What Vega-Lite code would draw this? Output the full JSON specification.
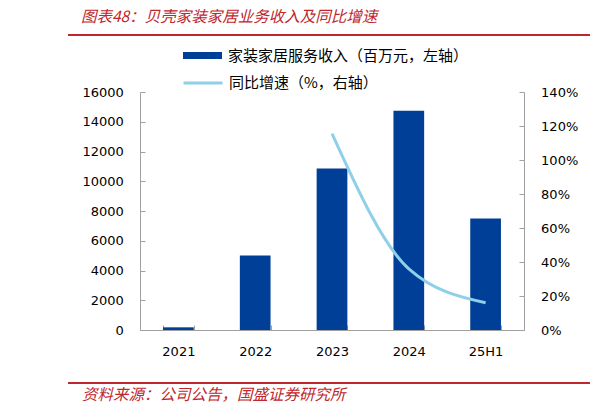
{
  "$schema": "https://vega.github.io/schema/vega-lite/v6.json",
  "background": "white",
  "padding": {"left": 68, "top": 9, "right": 5, "bottom": 5},
  "spacing": 11,
  "config": {
    "view": {"stroke": null},
    "font": "Noto Sans CJK SC",
    "axis": {"labelFont": "DejaVu Sans", "labelFontSize": 13, "labelColor": "#000000", "domainColor": "#a0a0a0", "tickColor": "#a0a0a0", "grid": false, "title": null}
  },
  "vconcat": [
    {
      "width": 522,
      "height": 2,
      "view": {"fill": "#C0272D", "stroke": null},
      "title": {"text": "图表48：贝壳家装家居业务收入及同比增速", "anchor": "start", "dx": 13, "offset": 9, "font": "Noto Sans CJK SC", "fontSize": 15.5, "fontStyle": "italic", "fontWeight": "normal", "color": "#C0272D"},
      "data": {"values": []},
      "mark": "point"
    },
    {
      "spacing": 13,
      "hconcat": [
        {
          "width": 1,
          "height": 1,
          "data": {"values": []},
          "mark": "point"
        },
        {
          "width": 384,
          "height": 238,
          "data": {"values": [
            {"period": "2021", "revenue": 180, "growth": null},
            {"period": "2022", "revenue": 5013, "growth": null},
            {"period": "2023", "revenue": 10852, "growth": 115.5},
            {"period": "2024", "revenue": 14745, "growth": 36},
            {"period": "25H1", "revenue": 7497, "growth": 16}
          ]},
          "encoding": {
            "x": {"field": "period", "type": "ordinal", "sort": null,
              "scale": {"paddingInner": 0.6, "paddingOuter": 0.3},
              "axis": {"labelAngle": 0, "tickBand": "extent", "tickSize": -5, "labelPadding": 20.5}}
          },
          "layer": [
            {
              "mark": {"type": "bar"},
              "encoding": {
                "y": {"field": "revenue", "type": "quantitative",
                  "scale": {"domain": [0, 16000]},
                  "axis": {"values": [0, 2000, 4000, 6000, 8000, 10000, 12000, 14000, 16000], "format": "d", "tickSize": -5, "labelPadding": 21.6}},
                "fill": {"datum": "家装家居服务收入（百万元，左轴）", "type": "nominal",
                  "scale": {"range": ["#003F98"]},
                  "legend": {"orient": "none", "legendX": 54, "legendY": -45, "title": null,
                    "symbolType": "M-2.6,-0.47H2.6V0.47H-2.6Z", "symbolSize": 225, "symbolOpacity": 1,
                    "labelFont": "Noto Sans CJK SC", "labelFontSize": 15, "labelColor": "#000000", "labelOffset": 17, "labelLimit": 400}}
              }
            },
            {
              "mark": {"type": "line", "interpolate": "monotone", "strokeWidth": 3},
              "encoding": {
                "y": {"field": "growth", "type": "quantitative",
                  "scale": {"domain": [0, 140]},
                  "axis": {"orient": "right", "values": [0, 20, 40, 60, 80, 100, 120, 140], "labelExpr": "datum.value + '%'", "tickSize": -5, "labelPadding": 21.6}},
                "stroke": {"datum": "同比增速（%，右轴）", "type": "nominal",
                  "scale": {"range": ["#8FD0E8"]},
                  "legend": {"orient": "none", "legendX": 54, "legendY": -18, "title": null,
                    "symbolType": "M-2.6,0H2.6", "symbolSize": 225, "symbolStrokeWidth": 3,
                    "labelFont": "Noto Sans CJK SC", "labelFontSize": 15, "labelColor": "#000000", "labelOffset": 17, "labelLimit": 400}}
              }
            }
          ],
          "resolve": {"scale": {"y": "independent", "fill": "independent", "stroke": "independent"}}
        }
      ]
    },
    {
      "width": 1,
      "height": 1,
      "data": {"values": []},
      "mark": "point"
    },
    {
      "width": 522,
      "height": 2,
      "view": {"fill": "#C0272D", "stroke": null},
      "title": {"text": "资料来源：公司公告，国盛证券研究所", "orient": "bottom", "anchor": "start", "dx": 14, "offset": 4, "font": "Noto Sans CJK SC", "fontSize": 15.5, "fontStyle": "italic", "fontWeight": "normal", "color": "#C0272D"},
      "data": {"values": []},
      "mark": "point"
    }
  ]
}
